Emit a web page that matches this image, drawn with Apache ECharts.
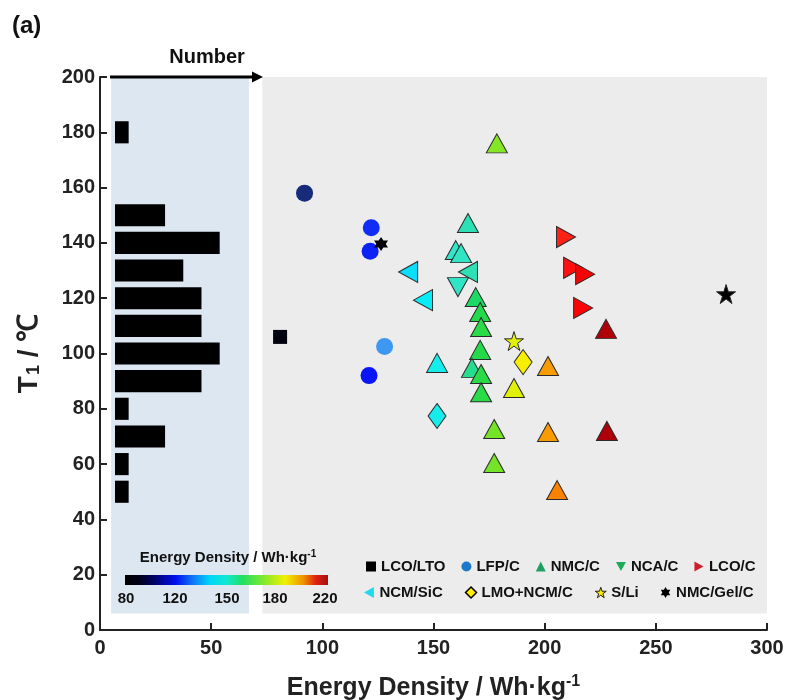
<!DOCTYPE html>
<html><head><meta charset="utf-8">
<script src="https://cdn.jsdelivr.net/npm/echarts@6/dist/echarts.min.js"></script>
<style>html,body{margin:0;padding:0;background:#fff}#c{width:789px;height:700px}</style>
</head><body><div id="c"></div>
<script>
// ---------- data ----------
const HIST_T = [180, 150, 140, 130, 120, 110, 100, 90, 80, 70, 60, 50];
const HIST_N = [1, 3, 6, 4, 5, 5, 6, 5, 1, 3, 1, 1];

const LCO_LTO = [[81, 106]];
const LFP_C = [[92, 158], [122, 145.5], [121.5, 137], [128, 102.5], [121, 92]];
const NMC_C = [[178.5, 176], [165.5, 147.2], [160, 137.4], [162.4, 136.3], [169, 120.4],
  [171, 115], [171.4, 109.6], [171, 101.3], [167.3, 94.8], [171.4, 92.6], [171.4, 86],
  [151.6, 96.6], [186.2, 87.5], [201.5, 95.5], [177.3, 72.7], [177.3, 60.4],
  [201.5, 71.6], [205.6, 50.6], [227.6, 108.9], [228, 72]];
const NCA_C = [[161, 124]];
const LCO_C = [[209.6, 142.1], [212.8, 131], [218.2, 128.7], [217.3, 116.5]];
const NCM_SIC = [[138.6, 129.5], [145.3, 119.3], [165.5, 129.5]];
const LMO_NCM_C = [[190.3, 96.9], [151.6, 77.4]];
const S_LI = [[186.2, 104.5], [281.6, 121.5]];
const NMC_GEL_C = [[126.4, 139.6]];

const CBAR_LABELS = ['80', '120', '150', '180', '220'];

// ---------- styles ----------
const FONT = "'Liberation Sans', Arial, sans-serif";
const TRI_DOWN = 'path://M0,0 L10,0 L5,9 Z';
const TRI_LEFT = 'path://M0,5 L9,0 L9,10 Z';
const TRI_RIGHT = 'path://M0,0 L9,5 L0,10 Z';
const STAR5 = 'path://M0,-10 L2.25,-3.09 L9.51,-3.09 L3.63,1.18 L5.88,8.09 L0,3.82 L-5.88,8.09 L-3.63,1.18 L-9.51,-3.09 L-2.25,-3.09 Z';
const STAR6 = 'path://M0,-10 L2.9,-5 L8.66,-5 L5.8,0 L8.66,5 L2.9,5 L0,10 L-2.9,5 L-8.66,5 L-5.8,0 L-8.66,-5 L-2.9,-5 Z';

// colours every 5 Wh/kg from 80 up to 300 (values above 232 are out of range -> black)
const VM_COLORS = ['#000008','#020828','#16286e','#1a2c8c','#1224b0','#0818d0','#0410e8','#0004f8',
  '#0000f4','#2870f8','#4cb2ee','#28d0f8','#00e4ff','#08ecf8','#10eef0','#20ecdc','#30e6c8',
  '#30e2c0','#18d850','#58e030','#98e820','#d8f008','#f8f000','#f8c800','#f8a000','#f89000',
  '#ff1818','#ff0a0a','#f00000','#c00008','#a00008','#a00008','#a00008','#a00008','#a00008',
  '#a00008','#a00008','#a00008','#a00008','#a00008','#a00008','#a00008','#a00008','#a00008','#a00008'];

const chart = echarts.init(document.getElementById('c'), null, { renderer: 'canvas' });

function scat(name, data, symbol, size, style) {
  return {
    name, type: 'scatter', data, symbol, symbolSize: size, z: 5,
    xAxisIndex: 0, yAxisIndex: 0,
    itemStyle: Object.assign({ opacity: 1, borderColor: '#2a2a2a', borderWidth: 1 }, style || {})
  };
}

const legendText = { fontFamily: FONT, fontWeight: 'bold', fontSize: 15, color: '#111' };

const option = {
  animation: false,
  backgroundColor: '#fff',
  grid: [
    { left: 100, right: 22, top: 77, bottom: 70, containLabel: false, outerBoundsMode: 'none' },
    { left: 115, width: 132, top: 77, bottom: 70, containLabel: false, outerBoundsMode: 'none' }
  ],
  xAxis: [
    { type: 'value', min: 0, max: 300, interval: 50, gridIndex: 0,
      axisLine: { lineStyle: { color: '#222', width: 2 } },
      axisTick: { inside: true, length: 7, lineStyle: { color: '#222', width: 2 } },
      axisLabel: { fontFamily: FONT, fontWeight: 'bold', fontSize: 20, color: '#222', margin: 8 },
      splitLine: { show: false },
      name: 'Energy Density / Wh·kg{sup|-1}', nameLocation: 'middle', nameGap: 44,
      nameTextStyle: { fontFamily: FONT, fontWeight: 'bold', fontSize: 25, color: '#222',
        rich: { sup: { fontFamily: FONT, fontWeight: 'bold', fontSize: 16, color: '#222', padding: [0, 0, 13, 0] } } } },
    { type: 'value', min: 0.25, max: 7.5, gridIndex: 1, show: false }
  ],
  yAxis: [
    { type: 'value', min: 0, max: 200, interval: 20, gridIndex: 0,
      axisLine: { lineStyle: { color: '#222', width: 2 } },
      axisTick: { inside: true, length: 7, lineStyle: { color: '#222', width: 2 } },
      axisLabel: { fontFamily: FONT, fontWeight: 'bold', fontSize: 20, color: '#222', margin: 5 },
      splitLine: { show: false },
      name: 'T{sub|1}{t| / ℃}', nameLocation: 'middle', nameGap: 57, nameRotate: 90,
      nameTextStyle: { fontFamily: FONT, fontWeight: 'bold', fontSize: 28, color: '#222',
        rich: { sub: { fontFamily: FONT, fontWeight: 'bold', fontSize: 18, color: '#222', padding: [10, 0, 0, 1] },
                t: { fontFamily: FONT, fontWeight: 'bold', fontSize: 28, color: '#222' } } } },
    { type: 'value', min: 0, max: 200, gridIndex: 1, show: false }
  ],
  visualMap: {
    type: 'continuous', show: false, dimension: 0, min: 80, max: 300, range: [80, 232],
    seriesIndex: [2, 3, 4, 5, 6, 7, 8, 9],
    inRange: { color: VM_COLORS }, outOfRange: { color: '#000' }
  },
  legend: [
    { left: 366, top: 559, itemWidth: 10, itemHeight: 10, itemGap: 16, padding: 0,
      selectedMode: false, textStyle: legendText,
      data: [
        { name: 'LCO/LTO', icon: 'rect', itemStyle: { color: '#000', borderWidth: 0 } },
        { name: 'LFP/C', icon: 'circle', itemStyle: { color: '#1f78c8', borderWidth: 0 } },
        { name: 'NMC/C', icon: 'triangle', itemStyle: { color: '#1fa060', borderWidth: 0 } },
        { name: 'NCA/C', icon: TRI_DOWN, itemStyle: { color: '#1faa5a', borderWidth: 0 } },
        { name: 'LCO/C', icon: TRI_RIGHT, itemStyle: { color: '#cc1f2a', borderWidth: 0 } }
      ] },
    { left: 364, top: 585, itemWidth: 11, itemHeight: 11, itemGap: 22, padding: 0,
      selectedMode: false, textStyle: legendText,
      data: [
        { name: 'NCM/SiC', icon: TRI_LEFT, itemStyle: { color: '#22d8ee', borderWidth: 0 } },
        { name: 'LMO+NCM/C', icon: 'diamond', itemStyle: { color: '#ffee00', borderColor: '#000', borderWidth: 1.5 } },
        { name: 'S/Li', icon: STAR5, itemStyle: { color: '#ffee00', borderColor: '#222', borderWidth: 1 } },
        { name: 'NMC/Gel/C', icon: STAR6, itemStyle: { color: '#000', borderWidth: 0 } }
      ] }
  ],
  series: [
    { type: 'scatter', name: 'panels', data: [], z: 0, silent: true,
      markArea: { silent: true, z: 0, data: [
        [{ xAxis: 5, yAxis: 6, itemStyle: { color: '#dde7f2' } }, { xAxis: 67, yAxis: 200 }],
        [{ xAxis: 73, yAxis: 6, itemStyle: { color: '#ececec' } }, { xAxis: 300, yAxis: 200 }]
      ] } },
    { type: 'custom', name: 'hist', xAxisIndex: 1, yAxisIndex: 1, z: 3, silent: true,
      data: HIST_N.map((n, i) => [n, HIST_T[i]]),
      renderItem: function (params, api) {
        const n = api.value(0), t = api.value(1);
        const p0 = api.coord([0.25, t + 4]);
        const p1 = api.coord([n, t - 4]);
        return { type: 'rect', shape: { x: p0[0], y: p0[1], width: p1[0] - p0[0], height: p1[1] - p0[1] },
          style: { fill: '#000' } };
      } },
    scat('LCO/LTO', LCO_LTO, 'rect', 14, { borderWidth: 0 }),
    scat('LFP/C', LFP_C, 'circle', 17, { borderWidth: 0 }),
    scat('NMC/C', NMC_C, 'triangle', [21, 19]),
    scat('NCA/C', NCA_C, TRI_DOWN, [21, 19]),
    scat('LCO/C', LCO_C, TRI_RIGHT, [19, 21]),
    scat('NCM/SiC', NCM_SIC, TRI_LEFT, [19, 21]),
    scat('LMO+NCM/C', LMO_NCM_C, 'diamond', [18, 25]),
    scat('S/Li', S_LI, STAR5, 19),
    scat('NMC/Gel/C', NMC_GEL_C, STAR6, 14, { color: '#000', borderWidth: 0 })
  ],
  graphic: [
    { type: 'text', left: 12, top: 14, style: { text: '(a)', font: 'bold 24px ' + FONT, fill: '#111' } },
    { type: 'text', x: 207, y: 57, style: { text: 'Number', font: 'bold 20px ' + FONT, fill: '#111', align: 'center', verticalAlign: 'middle' } },
    { type: 'line', shape: { x1: 110, y1: 77, x2: 254, y2: 77 }, style: { stroke: '#000', lineWidth: 3 }, z: 10 },
    { type: 'polygon', shape: { points: [[252, 71.5], [263, 77], [252, 82.5]] }, style: { fill: '#000' }, z: 10 },
    { type: 'rect', shape: { x: 125, y: 575, width: 203, height: 10 }, z: 10,
      style: { fill: { type: 'linear', x: 0, y: 0, x2: 1, y2: 0, colorStops: [
        { offset: 0, color: '#000000' }, { offset: 0.07, color: '#00001a' }, { offset: 0.15, color: '#000070' },
        { offset: 0.25, color: '#0010f0' }, { offset: 0.33, color: '#1070f8' }, { offset: 0.42, color: '#00d8f8' },
        { offset: 0.50, color: '#10e8d0' }, { offset: 0.58, color: '#20e060' }, { offset: 0.68, color: '#80e830' },
        { offset: 0.79, color: '#f0f000' }, { offset: 0.88, color: '#f09000' }, { offset: 0.94, color: '#e02010' },
        { offset: 1, color: '#a01010' } ] } } },
    { type: 'text', x: 228, y: 558, z: 10, style: { text: 'Energy Density / Wh·kg{sup|-1}', font: 'bold 15px ' + FONT, fill: '#111',
      align: 'center', verticalAlign: 'middle',
      rich: { sup: { font: 'bold 10px ' + FONT, fill: '#111', padding: [0, 0, 8, 0] } } } }
  ].concat(CBAR_LABELS.map((s, i) => ({
    type: 'text', x: [126, 175, 227, 275, 325][i], y: 599, z: 10,
    style: { text: s, font: 'bold 15px ' + FONT, fill: '#111', align: 'center', verticalAlign: 'middle' }
  })))
};
chart.setOption(option);
</script>
</body></html>
